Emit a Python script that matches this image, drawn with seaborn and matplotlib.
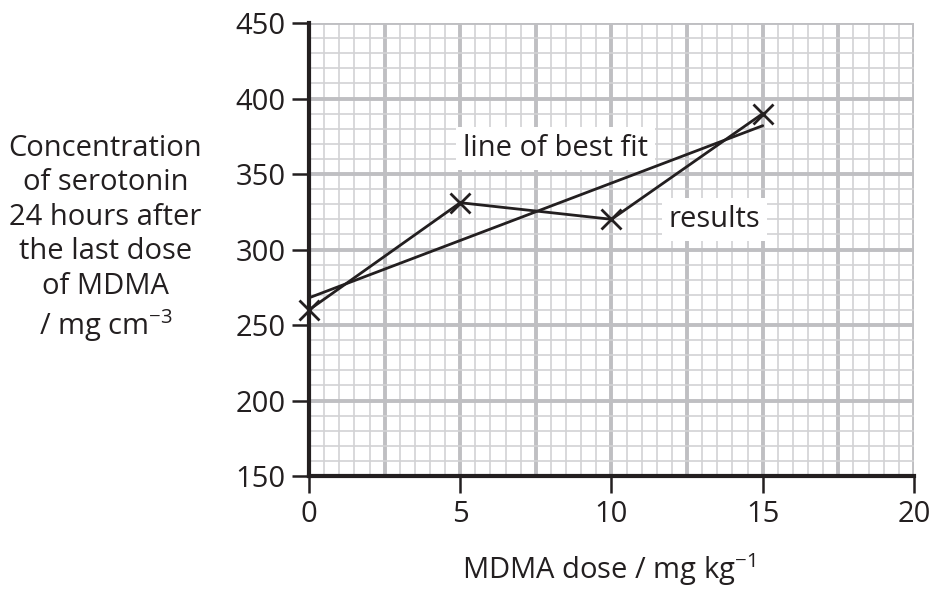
import numpy as np
import pandas as pd
import matplotlib
matplotlib.use("Agg")
import matplotlib.pyplot as plt
import seaborn as sns

# data
dose = [0, 5, 10, 15]
serotonin = [260, 331, 320, 390]
fit_dose = [0, 15]
fit_serotonin = [268, 382]

x_ticks = [0, 5, 10, 15, 20]
y_ticks = [150, 200, 250, 300, 350, 400, 450]

sns.set_style("white")
plt.rcParams['font.family'] = ['Open Sans', 'DejaVu Sans']

ink = "#231f20"
fig = plt.figure(figsize=(9.33, 5.9), dpi=100)
ax = fig.add_axes([0.3312, 0.1932, 0.6484, 0.7678])

# graph paper grid
minor_col = "#d2d2d4"
major_col = "#bfbfc2"
for xv in np.arange(0, 20.01, 0.5):
    major = abs(xv / 2.5 - round(xv / 2.5)) < 1e-6
    ax.axvline(xv, color=major_col if major else minor_col,
               lw=2.8 if major else 1.2, zorder=0)
for yv in np.arange(150, 450.01, 10):
    major = (yv % 50) == 0
    ax.axhline(yv, color=major_col if major else minor_col,
               lw=2.8 if major else 1.2, zorder=0)

results = pd.DataFrame({"dose": dose, "serotonin": serotonin})
fit = pd.DataFrame({"dose": fit_dose, "serotonin": fit_serotonin})

sns.lineplot(data=results, x="dose", y="serotonin", ax=ax, color=ink,
             lw=2.0, marker="x", markersize=14, markeredgewidth=2.0,
             markeredgecolor=ink, zorder=3, clip_on=False)
sns.lineplot(data=fit, x="dose", y="serotonin", ax=ax, color=ink,
             lw=2.0, zorder=3)

ax.set_xlim(0, 20)
ax.set_ylim(150, 450)
ax.set_xticks(x_ticks)
ax.set_yticks(y_ticks)
ax.tick_params(axis="both", labelsize=21, colors=ink, direction="out",
               length=12, width=1.8, left=True, bottom=True, pad=5)
for s in ["top", "right"]:
    ax.spines[s].set_visible(False)
for s in ["left", "bottom"]:
    ax.spines[s].set_color(ink)
    ax.spines[s].set_linewidth(3.0)
ax.set_xlabel("")
ax.set_ylabel("")

bbox = dict(facecolor="white", edgecolor="none", pad=5)
ax.text(8.15, 367, "line of best fit", fontsize=21, color=ink,
        ha="center", va="center", bbox=bbox, zorder=2)
ax.text(13.4, 320, "results", fontsize=21, color=ink,
        ha="center", va="center", bbox=bbox, zorder=2)

fig.text(0.113, 0.595, "Concentration\nof serotonin\n24 hours after\nthe last dose\nof MDMA\n/ mg cm$^{\\mathregular{-3}}$",
         fontsize=21, color=ink, ha="center", va="center", linespacing=1.25)
fig.text(0.652, 0.034, "MDMA dose / mg kg$^{\\mathregular{-1}}$", fontsize=21,
         color=ink, ha="center", va="center")

fig.savefig("out.png", dpi=100)
